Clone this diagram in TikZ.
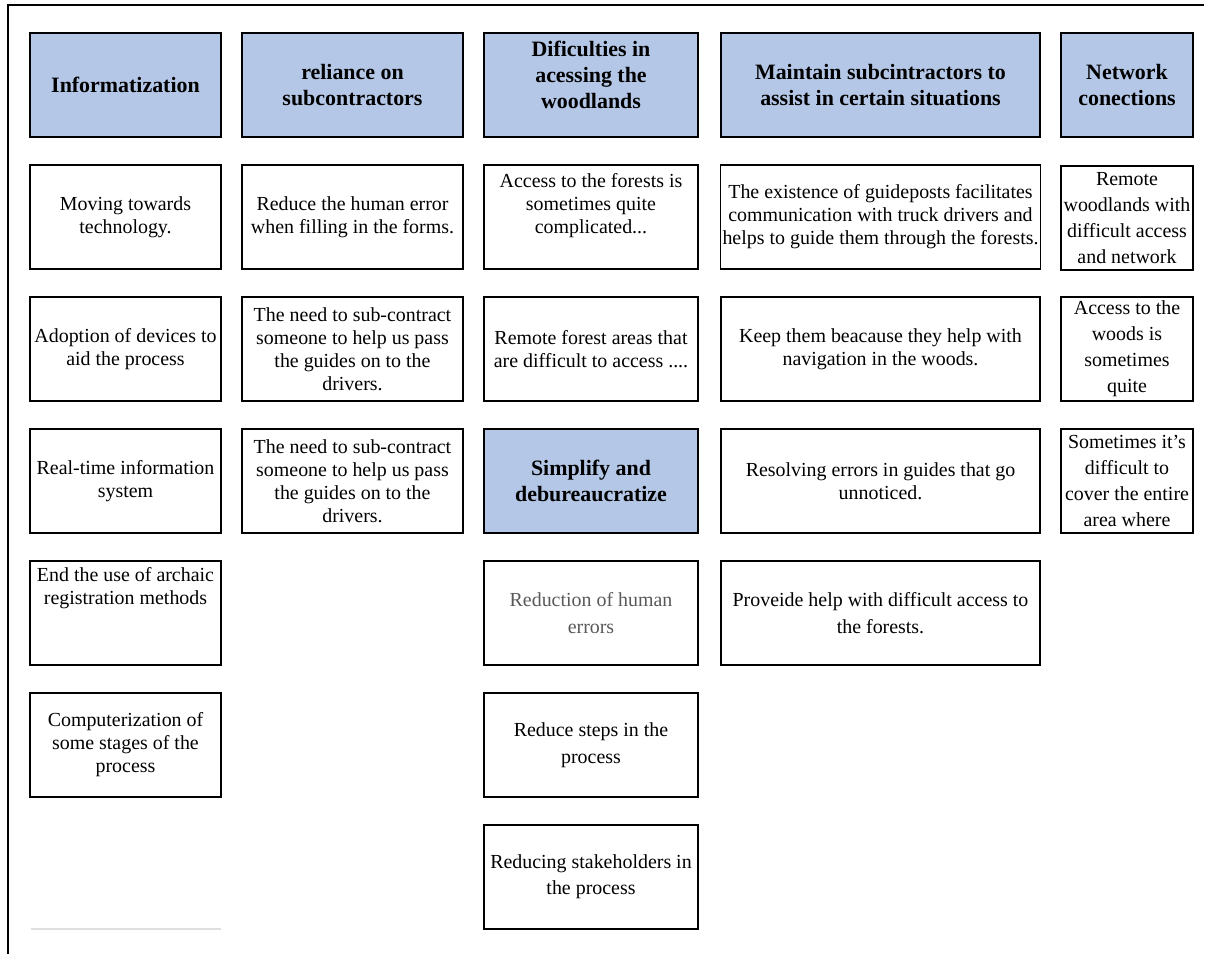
\documentclass[tikz,border=0pt]{standalone}
\usepackage{fontspec}
\setmainfont{Liberation Serif}
\definecolor{headblue}{HTML}{B4C7E7}
\definecolor{softtext}{HTML}{595959}
\begin{document}
\begin{tikzpicture}[x=1bp,y=-1bp,
  head/.style={draw=black, line width=2bp, fill=headblue, minimum height=104bp,
    inner sep=2bp, align=center, font=\bfseries\fontsize{22}{26}\selectfont},
  headtext/.style={inner sep=0pt, align=center, font=\bfseries\fontsize{22}{26}\selectfont},
  cell/.style={draw=black, line width=1.2bp, fill=white, minimum height=104bp,
    inner sep=2bp, align=center, font=\fontsize{20}{23}\selectfont},
  celltext/.style={inner sep=0pt, align=center, font=\fontsize{20}{23}\selectfont},
  wide/.style={font=\fontsize{20}{27}\selectfont},
  loose/.style={font=\fontsize{20}{26}\selectfont},
  colA/.style={minimum width=191bp},
  colB/.style={minimum width=221bp},
  colC/.style={minimum width=214bp},
  colD/.style={minimum width=319bp},
  colE/.style={minimum width=132bp},
  frame/.style={draw=black, line width=1.5bp}]
\useasboundingbox (0,0) rectangle (1212,954);

% outer frame: top and left edges
\coordinate (fTL) at (8,5);
\coordinate (fTR) at (1204,5);
\coordinate (fBL) at (8,954);
\draw[frame] (fTR) -- (fTL) -- (fBL);

% headers
\node[head, colA] (h1) at (125.5,85) {Informatization};
\node[head, colB] (h2) at (352.5,85) {reliance on\\subcontractors};
\node[head, colC] (h3) at (591,85) {};
\node[headtext] (h3t) at ([yshift=10bp]h3.center) {Dificulties in\\acessing the\\woodlands};
\node[head, colD] (h4) at (880.5,85) {Maintain subcintractors to\\assist in certain situations};
\node[head, colE] (h5) at (1127,85) {Network\\conections};

% column 1
\node[cell, colA] (a1) at (125.5,217) {Moving towards\\technology.};
\node[cell, colA] (a2) at (125.5,349) {Adoption of devices to\\aid the process};
\node[cell, colA] (a3) at (125.5,481) {Real-time information\\system};
\node[cell, colA] (a4) at (125.5,613) {};
\node[celltext] (a4t) at ([yshift=25bp]a4.center) {End the use of archaic\\registration methods};
\node[cell, colA] (a5) at (125.5,745) {Computerization of\\some stages of the\\process};
\coordinate (a6l) at (31,929);
\coordinate (a6r) at (221,929);
\draw[gray!25, line width=1.5bp] (a6l) -- (a6r);

% column 2
\node[cell, colB] (b1) at (352.5,217) {Reduce the human error\\when filling in the forms.};
\node[cell, colB] (b2) at (352.5,349) {The need to sub-contract\\someone to help us pass\\the guides on to the\\drivers.};
\node[cell, colB] (b3) at (352.5,481) {The need to sub-contract\\someone to help us pass\\the guides on to the\\drivers.};

% column 3
\node[cell, colC] (c1) at (591,217) {};
\node[celltext] (c1t) at ([yshift=11bp]c1.center) {Access to the forests is\\sometimes quite\\complicated...};
\node[cell, colC] (c2) at (591,349) {Remote forest areas that\\are difficult to access ....};
\node[head, colC] (c3) at (591,481) {Simplify and\\debureaucratize};
\node[cell, colC, wide, text=softtext] (c4) at (591,613) {Reduction of human\\errors};
\node[cell, colC, wide] (c5) at (591,745) {Reduce steps in the\\process};
\node[cell, colC, loose] (c6) at (591,877) {Reducing stakeholders in\\the process};

% column 4
\node[cell, colD] (d1) at (880.5,217) {The existence of guideposts facilitates\\communication with truck drivers and\\helps to guide them through the forests.};
\node[cell, colD] (d2) at (880.5,349) {Keep them beacause they help with\\navigation in the woods.};
\node[cell, colD] (d3) at (880.5,481) {Resolving errors in guides that go\\unnoticed.};
\node[cell, colD, wide] (d4) at (880.5,613) {Proveide help with difficult access to\\the forests.};

% column 5
\node[cell, colE, loose] (e1) at (1127,218) {Remote\\woodlands with\\difficult access\\and network};
\node[cell, colE, loose] (e2) at (1127,349) {Access to the\\woods is\\sometimes\\quite};
\node[cell, colE, loose] (e3) at (1127,481) {Sometimes it's\\difficult to\\cover the entire\\area where};
\end{tikzpicture}
\end{document}
